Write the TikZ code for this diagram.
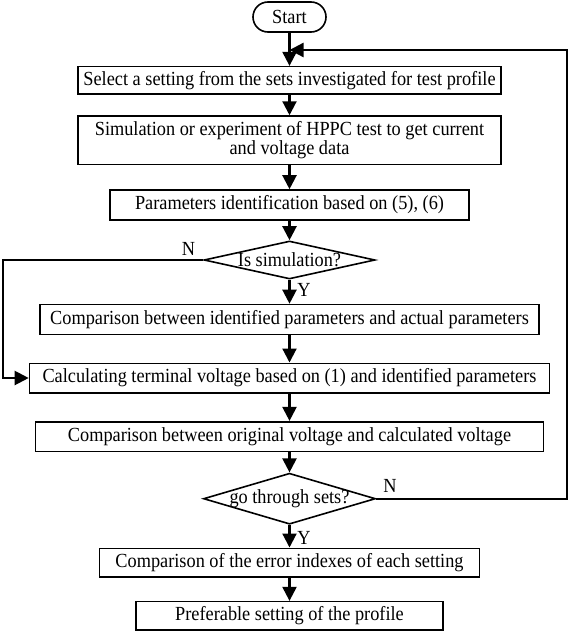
\documentclass[tikz,border=0pt]{standalone}
\usepackage{fontspec}
\setmainfont{Liberation Serif}[FakeStretch=0.915]
\usetikzlibrary{arrows.meta,shapes.geometric}
\begin{document}
\begin{tikzpicture}[x=1pt,y=-1pt,
  txt/.style={font=\fontsize{20}{19.5}\selectfont},
  box/.style={draw, line width=1.6pt, inner sep=0pt, align=center, txt},
  dia/.style={draw, diamond, line width=1.6pt, inner sep=0pt},
  conn/.style={line width=2.2pt, -{Triangle[length=14pt,width=14pt]}},
  lab/.style={txt, inner sep=0pt}
]
\useasboundingbox (0,0) rectangle (570,632);
\node[box, rounded corners=15pt, minimum width=73pt, minimum height=30pt] (start) at (289.5,17) {Start};
\node[box, minimum width=423.3pt, minimum height=27.3pt] (b1) at (289.5,80.3) {Select a setting from the sets investigated for test profile};
\node[box, minimum width=423.3pt, minimum height=48.3pt] (b2) at (289.5,140.2) {Simulation or experiment of HPPC test to get current\\and voltage data};
\node[box, minimum width=359pt, minimum height=30pt] (b3) at (289.5,205) {Parameters identification based on (5), (6)};
\node[dia, minimum width=171pt, minimum height=38pt] (d1) at (289.5,260) {};
\node[lab] (d1t) at (289.5,260) {Is simulation?};
\node[box, minimum width=499pt, minimum height=29.8pt] (b4) at (289.5,319.4) {Comparison between identified parameters and actual parameters};
\node[box, minimum width=520pt, minimum height=29.4pt] (b5) at (289.5,378) {Calculating terminal voltage based on (1) and identified parameters};
\node[box, minimum width=508pt, minimum height=29.6pt] (b6) at (289.5,436.5) {Comparison between original voltage and calculated voltage};
\node[dia, minimum width=172pt, minimum height=51pt] (d2) at (289.5,498.7) {};
\node[lab] (d2t) at (289.5,498.7) {go through sets?};
\node[box, minimum width=380pt, minimum height=28.4pt] (b7) at (289.5,562.5) {Comparison of the error indexes of each setting};
\node[box, minimum width=307pt, minimum height=28.3pt] (b8) at (289.5,615.8) {Preferable setting of the profile};

\node[lab] (n1) at (188.5,248.5) {N};
\node[lab] (y1) at (304,290) {Y};
\node[lab] (n2) at (390,486) {N};
\node[lab] (y2) at (304,538) {Y};

\coordinate (nl) at (3.3,260);
\coordinate (lr) at (566.7,498.7);
\coordinate (lt) at (566.7,50);
\coordinate (lm) at (289.5,50);

\draw[conn] (start) -- (b1);
\draw[conn] (b1) -- (b2);
\draw[conn] (b2) -- (b3);
\draw[conn] (b3) -- (d1);
\draw[conn] (d1) -- (b4);
\draw[conn] (b4) -- (b5);
\draw[conn] (b5) -- (b6);
\draw[conn] (b6) -- (d2);
\draw[conn] (d2) -- (b7);
\draw[conn] (b7) -- (b8);
\draw[conn] (d1.west) -- (nl) |- (b5.west);
\draw[conn] (d2.east) -- (lr) -- (lt) -- (lm);
\end{tikzpicture}
\end{document}
